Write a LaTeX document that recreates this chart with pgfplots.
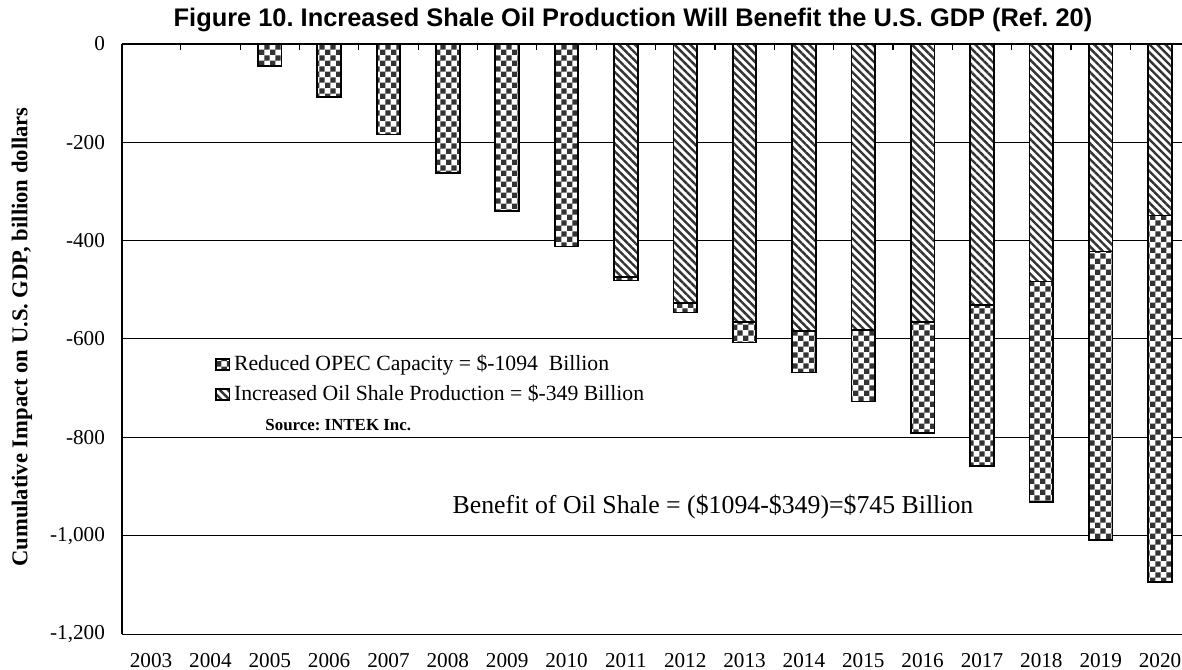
\documentclass[border=0pt]{standalone}
\usepackage{pgfplots}
\pgfplotsset{compat=1.18}
\usepackage{fontspec}
\setmainfont{Liberation Serif}
\newfontfamily\arialfont{Liberation Sans}
\usetikzlibrary{patterns,patterns.meta}
\frenchspacing

% checkerboard with 2.7pt squares
\pgfdeclarepatternformonly{finechecker}{\pgfpointorigin}{\pgfqpoint{5.4pt}{5.4pt}}{\pgfqpoint{5.4pt}{5.4pt}}{%
  \pgfpathrectangle{\pgfpointorigin}{\pgfqpoint{2.7pt}{2.7pt}}%
  \pgfpathrectangle{\pgfqpoint{2.7pt}{2.7pt}}{\pgfqpoint{2.7pt}{2.7pt}}%
  \pgfusepath{fill}}

\pgfplotsset{
  opec/.style={draw=black, line width=0.9pt, preaction={fill=white},
    pattern=finechecker, pattern color=black!80},
  shale/.style={draw=black, line width=0.9pt, preaction={fill=white},
    pattern={Lines[angle=-45,distance=2.8pt,line width=1.2pt]}, pattern color=black!80},
  sqleg/.style={legend image code/.code={%
    \draw[##1,line width=0.6pt] (0pt,-2.6pt) rectangle (6.6pt,2.6pt);}},
}

\begin{document}
\begin{tikzpicture}
\useasboundingbox (0,0) rectangle (591pt,334.5pt);
\begin{axis}[
  at={(61pt,17.5pt)}, anchor=south west,
  scale only axis, width=530pt, height=295pt,
  xmin=-0.49, xmax=17.37, ymin=-1200, ymax=0,
  ybar, bar width=11.8pt,
  separate axis lines,
  axis x line*=bottom, axis y line*=left,
  axis line style={-},
  x axis line style={draw=none},
  y axis line style={line width=0.7pt},
  major tick length=0pt,
  xtick={0,...,17},
  xticklabels={2003,2004,2005,2006,2007,2008,2009,2010,2011,2012,2013,2014,2015,2016,2017,2018,2019,2020},
  ytick={-1200,-1000,-800,-600,-400,-200,0},
  yticklabels={{-1,200},{-1,000},-800,-600,-400,-200,0},
  ymajorgrids, grid style={black, line width=0.5pt},
  tick label style={font=\fontsize{10.6}{12}\selectfont},
  yticklabel style={xshift=-5pt},
  xticklabel style={yshift=-6pt},
  legend cell align=left,
  legend style={at={(0.0880,0.48)}, anchor=north west, draw=none, fill=none,
    inner sep=0pt, row sep=1.6pt,
    font=\fontsize{10.85}{13}\selectfont},
  clip=false,
]
\addplot[opec, sqleg, bar shift=0pt] coordinates {
  (2,-44) (3,-108) (4,-184) (5,-262) (6,-339) (7,-412) (8,-481) (9,-546)
  (10,-607) (11,-668) (12,-727) (13,-792) (14,-859) (15,-931) (16,-1009) (17,-1094)
};
\addlegendentry{Reduced OPEC Capacity = \$-1094\ \ Billion}
\addplot[shale, sqleg, bar shift=0pt] coordinates {
  (8,-474) (9,-527) (10,-565) (11,-583) (12,-582) (13,-566) (14,-531)
  (15,-483) (16,-422) (17,-349)
};
\addlegendentry{Increased Oil Shale Production = \$-349 Billion}
\draw[line width=0.9pt] (rel axis cs:0,1) -- (rel axis cs:1,1);
\pgfplotsinvokeforeach{0.5,1.5,...,16.5}{
  \draw[line width=0.6pt] (axis cs:#1,0) -- ([yshift=-3pt]axis cs:#1,0);
}
\end{axis}
\node[font=\arialfont\bfseries\fontsize{12.7}{14}\selectfont] at (316.5pt,324.5pt)
  {Figure 10. Increased Shale Oil Production Will Benefit the U.S. GDP (Ref. 20)};
\node[rotate=90, font=\bfseries\fontsize{11.3}{13}\selectfont] at (11pt,166pt)
  {Cumulative Impact on U.S. GDP, billion dollars};
\node[anchor=west, inner sep=0pt, font=\bfseries\fontsize{8.45}{10}\selectfont] at (132.5pt,122pt)
  {Source: INTEK Inc.};
\node[font=\fontsize{12.9}{15}\selectfont] at (356.5pt,81pt)
  {Benefit of Oil Shale = (\$1094-\$349)=\$745 Billion};
\end{tikzpicture}
\end{document}
